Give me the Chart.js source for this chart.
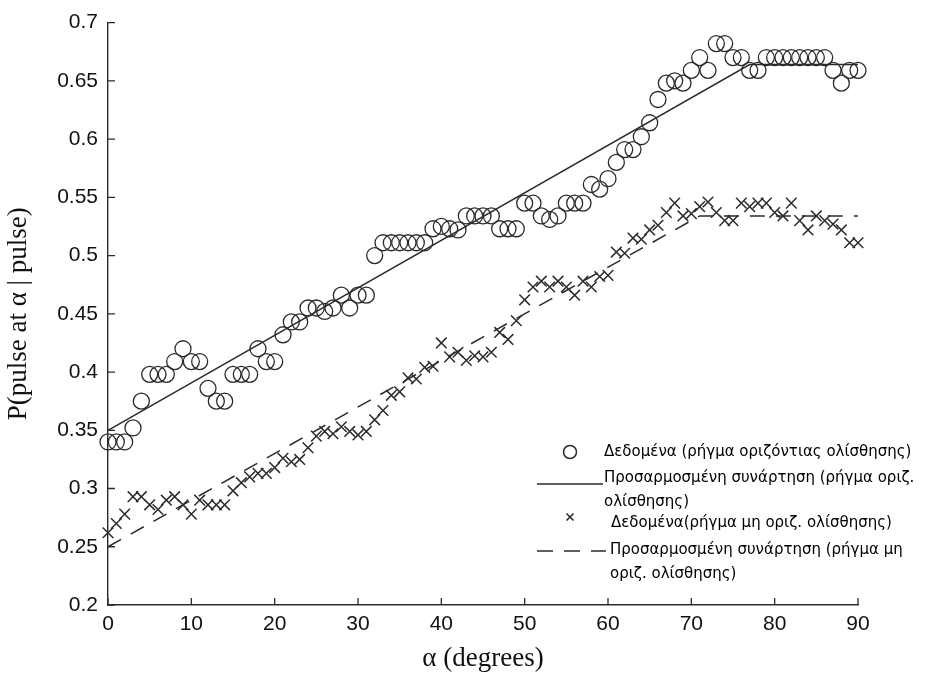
<!DOCTYPE html>
<html>
<head>
<meta charset="utf-8">
<script src="https://cdn.jsdelivr.net/npm/chart.js@4/dist/chart.umd.min.js"></script>
<style>
  html, body { margin: 0; padding: 0; background: #fff; }
  #wrap { width: 928px; height: 675px; position: relative; }
</style>
</head>
<body>
<div id="wrap"><canvas id="chart"></canvas></div>
<script>
// angle steps in degrees
const angles = [];
for (let a = 0; a <= 90; a++) angles.push(a);

// measured probabilities, horizontal-slip faults (circles)
const circleVals = [
  0.340, 0.340, 0.340, 0.352, 0.375, 0.398, 0.398, 0.398, 0.409, 0.420,
  0.409, 0.409, 0.386, 0.375, 0.375, 0.398, 0.398, 0.398, 0.420, 0.409,
  0.409, 0.432, 0.443, 0.443, 0.455, 0.455, 0.452, 0.455, 0.466, 0.455,
  0.466, 0.466, 0.500, 0.511, 0.511, 0.511, 0.511, 0.511, 0.511, 0.523,
  0.525, 0.523, 0.522, 0.534, 0.534, 0.534, 0.534, 0.523, 0.523, 0.523,
  0.545, 0.545, 0.534, 0.531, 0.534, 0.545, 0.545, 0.545, 0.561, 0.557,
  0.566, 0.580, 0.591, 0.591, 0.602, 0.614, 0.634, 0.648, 0.650, 0.648,
  0.659, 0.670, 0.659, 0.682, 0.682, 0.670, 0.670, 0.659, 0.659, 0.670,
  0.670, 0.670, 0.670, 0.670, 0.670, 0.670, 0.670, 0.659, 0.648, 0.659,
  0.659
];

// measured probabilities, non-horizontal-slip faults (crosses)
const crossVals = [
  0.262, 0.270, 0.278, 0.293, 0.293, 0.286, 0.282, 0.290, 0.293, 0.286,
  0.278, 0.290, 0.286, 0.286, 0.286, 0.298, 0.305, 0.310, 0.313, 0.313,
  0.318, 0.326, 0.323, 0.325, 0.335, 0.345, 0.349, 0.347, 0.353, 0.349,
  0.346, 0.349, 0.359, 0.367, 0.380, 0.383, 0.395, 0.394, 0.404, 0.405,
  0.425, 0.413, 0.417, 0.410, 0.414, 0.413, 0.417, 0.434, 0.428, 0.444,
  0.462, 0.473, 0.478, 0.473, 0.478, 0.473, 0.466, 0.478, 0.473, 0.482,
  0.483, 0.503, 0.502, 0.515, 0.514, 0.522, 0.526, 0.537, 0.545, 0.534,
  0.536, 0.542, 0.546, 0.537, 0.530, 0.530, 0.545, 0.542, 0.545, 0.545,
  0.537, 0.534, 0.545, 0.530, 0.522, 0.534, 0.530, 0.527, 0.522, 0.511,
  0.511
];

// fitted piecewise-linear curves
const fitSolidX = [0, 77, 90];
const fitSolidY = [0.350, 0.664, 0.664];
const fitDashX = [0, 71, 90];
const fitDashY = [0.250, 0.534, 0.534];

const xTicks = [0, 10, 20, 30, 40, 50, 60, 70, 80, 90];
const yTicks = [0.2, 0.25, 0.3, 0.35, 0.4, 0.45, 0.5, 0.55, 0.6, 0.65, 0.7];

const legendLabels = [
  ['Δεδομένα (ρήγμα οριζόντιας ολίσθησης)'],
  ['Προσαρμοσμένη συνάρτηση (ρήγμα οριζ.', 'ολίσθησης)'],
  ['Δεδομένα(ρήγμα μη οριζ. ολίσθησης)'],
  ['Προσαρμοσμένη συνάρτηση (ρήγμα μη', 'οριζ. ολίσθησης)']
];

const ink = '#2b2b2b';
const sansFont = '"Liberation Sans", Arial, sans-serif';
const serifFont = '"Liberation Serif", "Times New Roman", serif';
const pts = (xs, ys) => xs.map((x, i) => ({ x, y: ys[i] }));

// ticks on the inner side of the axes
const inwardTicks = {
  id: 'inwardTicks',
  beforeDatasetsDraw(chart) {
    const { ctx, chartArea: a, scales: { x, y } } = chart;
    ctx.save();
    ctx.strokeStyle = ink;
    ctx.lineWidth = 1.3;
    ctx.beginPath();
    x.ticks.forEach(t => {
      const px = x.getPixelForValue(t.value);
      ctx.moveTo(px, a.bottom);
      ctx.lineTo(px, a.bottom - 7);
    });
    y.ticks.forEach(t => {
      const py = y.getPixelForValue(t.value);
      ctx.moveTo(a.left, py);
      ctx.lineTo(a.left + 7, py);
    });
    ctx.stroke();
    ctx.restore();
  }
};

// legend in the lower right of the plot
const greekLegend = {
  id: 'greekLegend',
  afterDraw(chart) {
    const ctx = chart.ctx;
    ctx.save();
    ctx.strokeStyle = ink;
    ctx.fillStyle = '#000';
    ctx.font = '15px "DejaVu Sans", Verdana, sans-serif';
    ctx.textBaseline = 'middle';

    // circle
    ctx.lineWidth = 1.5;
    ctx.beginPath();
    ctx.arc(570, 452, 6.5, 0, Math.PI * 2);
    ctx.stroke();
    // solid line
    ctx.lineWidth = 1.3;
    ctx.beginPath();
    ctx.moveTo(537, 484);
    ctx.lineTo(603, 484);
    ctx.stroke();
    // cross
    ctx.lineWidth = 1.6;
    ctx.beginPath();
    ctx.moveTo(566.5, 513.5); ctx.lineTo(573.5, 520.5);
    ctx.moveTo(573.5, 513.5); ctx.lineTo(566.5, 520.5);
    ctx.stroke();
    // dashed line
    ctx.lineWidth = 1.4;
    ctx.setLineDash([16, 11]);
    ctx.beginPath();
    ctx.moveTo(537, 551);
    ctx.lineTo(606, 551);
    ctx.stroke();
    ctx.setLineDash([]);

    const rows = [
      { x: 604, y: [452] },
      { x: 604, y: [478, 502] },
      { x: 611, y: [523] },
      { x: 610, y: [550, 574] }
    ];
    rows.forEach((r, i) => {
      legendLabels[i].forEach((txt, j) => ctx.fillText(txt, r.x, r.y[j]));
    });
    ctx.restore();
  }
};

new Chart(document.getElementById('chart'), {
  type: 'scatter',
  data: {
    datasets: [
      {
        data: pts(angles, circleVals),
        pointStyle: 'circle',
        pointRadius: 8,
        borderWidth: 1.3,
        borderColor: ink,
        backgroundColor: 'rgba(0,0,0,0)',
        clip: false
      },
      {
        data: pts(fitSolidX, fitSolidY),
        showLine: true,
        pointRadius: 0,
        borderWidth: 1.5,
        borderColor: ink,
        clip: false
      },
      {
        data: pts(angles, crossVals),
        pointStyle: 'crossRot',
        pointRadius: 7.5,
        borderWidth: 1.5,
        borderColor: ink,
        clip: false
      },
      {
        data: pts(fitDashX, fitDashY),
        showLine: true,
        pointRadius: 0,
        borderWidth: 1.5,
        borderColor: ink,
        borderDash: [15, 11],
        clip: false
      }
    ]
  },
  options: {
    responsive: true,
    maintainAspectRatio: false,
    animation: false,
    layout: { padding: { left: 0, right: 70, top: 17, bottom: 0 } },
    plugins: { legend: { display: false }, tooltip: { enabled: false } },
    scales: {
      x: {
        type: 'linear',
        min: 0, max: 90,
        afterBuildTicks: s => { s.ticks = xTicks.map(v => ({ value: v })); },
        afterFit: s => { s.height = 70; },
        grid: { display: false, drawTicks: false },
        border: { display: true, color: ink, width: 1.4 },
        ticks: {
          padding: 7,
          color: '#111',
          maxRotation: 0,
          font: { family: sansFont, size: 21 },
          callback: v => String(v)
        },
        title: {
          display: true,
          text: 'α (degrees)',
          color: '#111',
          font: { family: serifFont, size: 27 },
          padding: { top: 0, bottom: 0 }
        }
      },
      y: {
        type: 'linear',
        min: 0.2, max: 0.7,
        afterBuildTicks: s => { s.ticks = yTicks.map(v => ({ value: v })); },
        afterFit: s => { s.width = 108; },
        grid: { display: false, drawTicks: false },
        border: { display: true, color: ink, width: 1.4 },
        ticks: {
          padding: 10,
          color: '#111',
          font: { family: sansFont, size: 21 },
          callback: v => String(v)
        },
        title: {
          display: true,
          text: 'P(pulse at α | pulse)',
          color: '#111',
          font: { family: serifFont, size: 27 },
          padding: { top: 3, bottom: 0 }
        }
      }
    }
  },
  plugins: [inwardTicks, greekLegend]
});
</script>
</body>
</html>
